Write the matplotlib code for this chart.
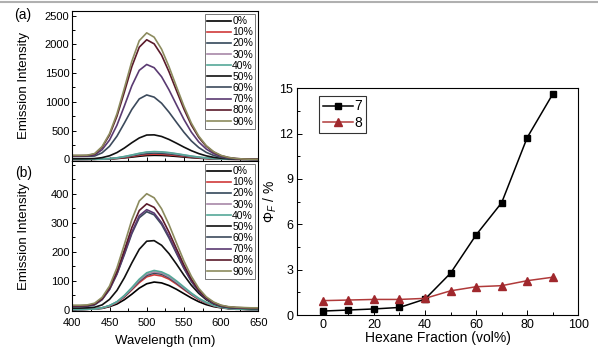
import matplotlib
matplotlib.use("Agg")
import matplotlib.pyplot as plt
from matplotlib.lines import Line2D
from matplotlib.ticker import MultipleLocator, FixedLocator

plt.rcParams['font.family'] = ['Liberation Sans', 'DejaVu Sans']
plt.rcParams['mathtext.fontset'] = 'custom'
plt.rcParams['mathtext.rm'] = 'Liberation Sans'
plt.rcParams['mathtext.it'] = 'Liberation Sans:italic'

# ---------------- data ----------------
wavelength = [400, 410, 420, 430, 440, 450, 460, 470, 480, 490, 500, 510, 520,
              530, 540, 550, 560, 570, 580, 590, 600, 610, 620, 630, 640, 650]
labels = ['0%', '10%', '20%', '30%', '40%', '50%', '60%', '70%', '80%', '90%']
colors = ['#000000', '#d03a3a', '#33485a', '#a888a8', '#55a898',
          '#101010', '#3c4a5c', '#5a3a72', '#5a1a2a', '#8c8b5e']

# panel (a) emission intensity
a_0 = [0, 0, 0, 1, 3, 7, 14, 25, 39, 54, 66, 70, 68, 61, 51, 40, 29, 20, 13, 8, 4, 2, 1, 0, 0, 0]
a_10 = [0, 0, 1, 2, 4, 9, 18, 32, 51, 70, 84, 90, 87, 78, 66, 52, 38, 26, 16, 10, 5, 3, 1, 1, 0, 0]
a_20 = [0, 0, 1, 2, 5, 11, 22, 40, 62, 85, 103, 110, 106, 96, 81, 63, 46, 32, 20, 12, 7, 3, 2, 1, 0, 0]
a_30 = [0, 0, 1, 2, 6, 13, 26, 47, 73, 101, 122, 130, 126, 113, 95, 75, 55, 37, 24, 14, 8, 4, 2, 1, 0, 0]
a_40 = [0, 0, 1, 2, 6, 14, 27, 49, 76, 105, 127, 135, 130, 118, 99, 78, 57, 39, 25, 15, 8, 4, 2, 1, 0, 0]
a_50 = [10, 10, 11, 14, 30, 62, 118, 197, 289, 372, 423, 426, 398, 346, 281, 213, 151, 100, 61, 35, 19, 9, 4, 2, 1, 0]
a_60 = [50, 50, 52, 58, 113, 227, 403, 631, 868, 1051, 1120, 1082, 976, 820, 644, 472, 321, 205, 122, 68, 35, 17, 8, 3, 1, 0]
a_70 = [60, 60, 62, 75, 167, 335, 594, 929, 1279, 1548, 1650, 1594, 1437, 1208, 949, 695, 474, 302, 180, 100, 51, 25, 11, 5, 2, 1]
a_80 = [65, 65, 67, 92, 210, 422, 749, 1171, 1612, 1951, 2080, 2009, 1812, 1523, 1196, 876, 597, 381, 227, 126, 64, 31, 14, 6, 2, 1]
a_90 = [70, 70, 72, 100, 222, 447, 792, 1239, 1705, 2064, 2200, 2125, 1916, 1610, 1265, 926, 631, 403, 240, 133, 68, 33, 15, 6, 2, 1]

# panel (b) emission intensity
b_0 = [0, 0, 1, 2, 4, 10, 19, 34, 53, 74, 89, 95, 92, 83, 70, 55, 40, 27, 17, 10, 6, 3, 1, 1, 0, 0]
b_10 = [0, 0, 1, 2, 5, 12, 24, 43, 68, 93, 113, 120, 116, 105, 88, 69, 51, 34, 22, 13, 7, 4, 2, 1, 0, 0]
b_20 = [0, 0, 1, 2, 6, 13, 26, 45, 71, 98, 118, 126, 122, 110, 92, 72, 53, 36, 23, 14, 8, 4, 2, 1, 0, 0]
b_30 = [0, 0, 1, 2, 6, 13, 26, 47, 73, 101, 122, 130, 126, 113, 95, 75, 55, 37, 24, 14, 8, 4, 2, 1, 0, 0]
b_40 = [0, 0, 1, 2, 6, 14, 27, 49, 76, 105, 127, 135, 130, 118, 99, 78, 57, 39, 25, 15, 8, 4, 2, 1, 0, 0]
b_50 = [5, 5, 6, 8, 16, 35, 66, 110, 161, 208, 236, 238, 222, 193, 157, 119, 84, 56, 34, 20, 11, 7, 5, 4, 3, 3]
b_60 = [10, 10, 11, 16, 34, 69, 122, 190, 262, 317, 338, 327, 294, 247, 194, 142, 97, 62, 37, 21, 12, 8, 6, 5, 4, 4]
b_70 = [12, 12, 13, 18, 35, 70, 124, 194, 267, 324, 345, 333, 300, 253, 198, 145, 99, 63, 38, 22, 13, 8, 6, 5, 5, 4]
b_80 = [13, 13, 14, 19, 37, 74, 131, 205, 283, 342, 365, 353, 318, 267, 210, 154, 105, 67, 40, 24, 14, 9, 7, 6, 5, 5]
b_90 = [15, 15, 16, 22, 42, 81, 144, 225, 310, 375, 400, 386, 348, 293, 230, 168, 115, 73, 44, 26, 15, 10, 8, 7, 6, 6]

series_a = [a_0, a_10, a_20, a_30, a_40, a_50, a_60, a_70, a_80, a_90]
series_b = [b_0, b_10, b_20, b_30, b_40, b_50, b_60, b_70, b_80, b_90]

# quantum yield vs hexane fraction
hexane = [0, 10, 20, 30, 40, 50, 60, 70, 80, 90]
phi_7 = [0.26, 0.33, 0.40, 0.50, 1.05, 2.77, 5.30, 7.43, 11.74, 14.62]
phi_8 = [0.95, 0.99, 1.03, 1.03, 1.10, 1.60, 1.87, 1.94, 2.27, 2.50]

# ---------------- figure ----------------
W, H = 598, 361
fig = plt.figure(figsize=(W / 100, H / 100), dpi=100)

def fr(x0, y0, x1, y1):
    return [x0 / W, 1 - y1 / H, (x1 - x0) / W, (y1 - y0) / H]

ax_a = fig.add_axes(fr(72.3, 11, 258.3, 160.5))
ax_b = fig.add_axes(fr(72.3, 161, 258.3, 311))
ax_c = fig.add_axes(fr(297.3, 88.3, 578.3, 315))

lw = 1.2
for ax, series in ((ax_a, series_a), (ax_b, series_b)):
    for s, c, lab in zip(series, colors, labels):
        ax.plot(wavelength, s, color=c, lw=lw, label=lab)
    ax.set_xlim(400, 650)
    ax.xaxis.set_major_locator(MultipleLocator(50))
    ax.xaxis.set_minor_locator(MultipleLocator(25))
    ax.tick_params(which='both', direction='in', labelsize=8, length=3, width=0.7, pad=2)
    ax.tick_params(axis='x', pad=5)
    ax.tick_params(which='minor', length=2)
    ax.set_ylabel('Emission Intensity', fontsize=9.5)
    for sp in ax.spines.values():
        sp.set_linewidth(0.8)
    leg = ax.legend(loc='upper right', fontsize=7.5, frameon=True, fancybox=False,
                    labelspacing=0.11, handlelength=2.3, handletextpad=0.1,
                    borderpad=0.2, borderaxespad=0.3, edgecolor='#555555')
    leg.get_frame().set_linewidth(0.7)

ax_a.set_ylim(-20, 2580)
ax_a.yaxis.set_major_locator(MultipleLocator(500))
ax_a.yaxis.set_minor_locator(MultipleLocator(250))
ax_a.tick_params(axis='x', labelbottom=False)

ax_b.set_ylim(-5, 513)
ax_b.yaxis.set_major_locator(FixedLocator([0, 100, 200, 300, 400]))
ax_b.yaxis.set_minor_locator(MultipleLocator(50))
ax_b.set_xlabel('Wavelength (nm)', fontsize=9.5, labelpad=5)

ax_a.yaxis.set_label_coords(-0.225, 0.5)
ax_b.yaxis.set_label_coords(-0.225, 0.5)

fig.text(23 / W, 1 - 15 / H, '(a)', fontsize=10, ha='center', va='center')
fig.text(24 / W, 1 - 173 / H, '(b)', fontsize=10, ha='center', va='center')

# right panel
ax_c.plot(hexane, phi_7, color='black', lw=1.1, marker='s', ms=5, label='7')
ax_c.plot(hexane, phi_8, color='#b03a3a', lw=1.1, marker='^', ms=5.5,
          mfc='#a0282d', mec='#a0282d', label='8')
ax_c.set_xlim(-10, 100)
ax_c.set_ylim(0, 15)
ax_c.xaxis.set_major_locator(MultipleLocator(20))
ax_c.xaxis.set_minor_locator(MultipleLocator(10))
ax_c.yaxis.set_major_locator(MultipleLocator(3))
ax_c.yaxis.set_minor_locator(MultipleLocator(1.5))
ax_c.tick_params(which='both', direction='in', labelsize=9, length=3.5, width=0.7, pad=3)
ax_c.tick_params(which='minor', length=2)
for sp in ax_c.spines.values():
    sp.set_linewidth(0.8)
ax_c.set_xlabel('Hexane Fraction (vol%)', fontsize=10, labelpad=0)
ax_c.set_ylabel(r'$\Phi_{F}$ / %', fontsize=10, labelpad=0)
leg = ax_c.legend(loc='upper left', bbox_to_anchor=(0.078, 0.966), fontsize=10,
                  frameon=True, fancybox=False, labelspacing=0.15, handlelength=2.2,
                  handletextpad=0.1, borderpad=0.25, borderaxespad=0.0, edgecolor='black')
leg.get_frame().set_linewidth(0.8)

fig.add_artist(Line2D([0, 1], [1 - 1.5 / H, 1 - 1.5 / H], color='#b0b0b0', lw=1.5))

fig.savefig('out.png', dpi=100)
